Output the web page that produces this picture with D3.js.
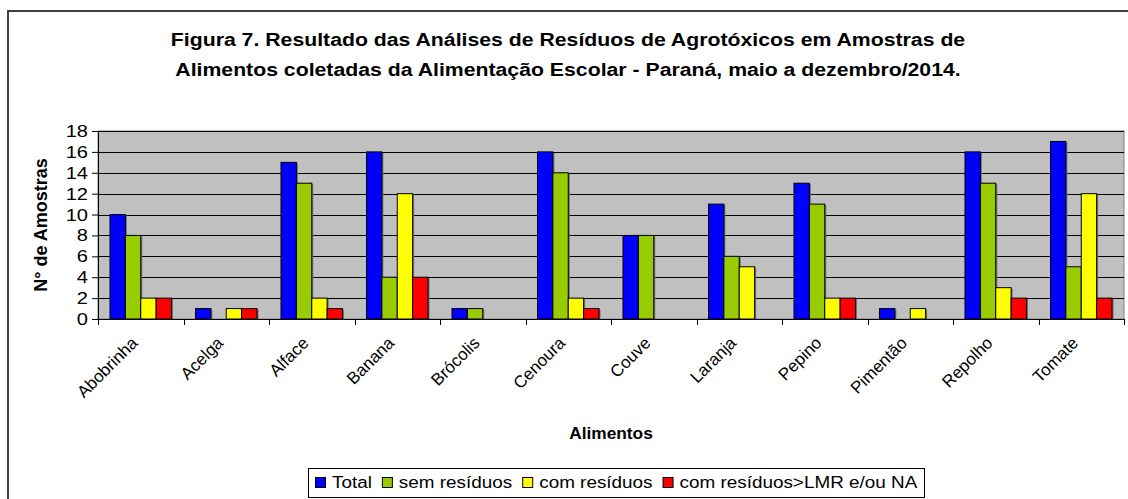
<!DOCTYPE html>
<html>
<head>
<meta charset="utf-8">
<script src="https://cdn.jsdelivr.net/npm/d3@7/dist/d3.min.js"></script>
<style>
  body { margin: 0; background: #fff; }
  svg { display: block; font-family: "Liberation Sans", Arial, sans-serif; }
</style>
</head>
<body>
<div id="chart"></div>
<script>
// dados
var alimentos = ["Abobrinha", "Acelga", "Alface", "Banana", "Brócolis", "Cenoura",
  "Couve", "Laranja", "Pepino", "Pimentão", "Repolho", "Tomate"];
var total = [10, 1, 15, 16, 1, 16, 8, 11, 13, 1, 16, 17];
var semResiduos = [8, 0, 13, 4, 1, 14, 8, 6, 11, 0, 13, 5];
var comResiduos = [2, 1, 2, 12, 0, 2, 0, 5, 2, 1, 3, 12];
var comLMR = [2, 1, 1, 4, 0, 1, 0, 0, 2, 0, 2, 2];
var seriesNames = ["Total", "sem resíduos", "com resíduos", "com resíduos>LMR e/ou NA"];
var seriesColors = ["#0000ff", "#99cc00", "#ffff00", "#ff0000"];
var yTicks = [0, 2, 4, 6, 8, 10, 12, 14, 16, 18];

var width = 1128, height = 499;
var plot = { left: 98, top: 131, right: 1124, bottom: 319 };
// o texto do original parece esticado na horizontal
var stretch = 1.18;

var svg = d3.select('#chart').append('svg')
  .attr('width', width)
  .attr('height', height);

function widen(sel, k) {
  sel.each(function () {
    var w = this.getComputedTextLength();
    d3.select(this).attr('textLength', w * k).attr('lengthAdjust', 'spacingAndGlyphs');
  });
}

// moldura externa
svg.append('rect')
  .attr('x', 8).attr('y', 11)
  .attr('width', width).attr('height', height)
  .attr('fill', 'none')
  .attr('stroke', '#404040')
  .attr('stroke-width', 2);

// titulo
var titleLines = ['Figura 7. Resultado das Análises de Resíduos de Agrotóxicos em Amostras de',
  'Alimentos coletadas da Alimentação Escolar - Paraná, maio a dezembro/2014.'];
svg.append('g').selectAll('text')
  .data(titleLines)
  .enter().append('text')
  .attr('x', 568)
  .attr('y', function (d, i) { return 46 + i * 30; })
  .attr('text-anchor', 'middle')
  .style('font-weight', 'bold')
  .style('font-size', '18px')
  .text(function (d) { return d; })
  .call(widen, stretch);

var x = d3.scaleBand()
  .domain(alimentos)
  .range([plot.left, plot.right]);

var xInner = d3.scaleBand()
  .domain(d3.range(4))
  .range([0, x.bandwidth()])
  .paddingOuter(0.78);

var y = d3.scaleLinear()
  .domain([0, 18])
  .range([plot.bottom, plot.top]);

// fundo da area de plotagem
svg.append('rect')
  .attr('x', plot.left).attr('y', plot.top)
  .attr('width', plot.right - plot.left)
  .attr('height', plot.bottom - plot.top)
  .attr('fill', '#c0c0c0')
  .attr('stroke', '#808080');

// linhas de grade
svg.append('g')
  .selectAll('line')
  .data(yTicks.slice(1))
  .enter().append('line')
  .attr('x1', plot.left).attr('x2', plot.right)
  .attr('y1', function (d) { return Math.round(y(d)) + 0.5; })
  .attr('y2', function (d) { return Math.round(y(d)) + 0.5; })
  .style('stroke', '#000')
  .style('stroke-width', 1);

// barras
var series = [total, semResiduos, comResiduos, comLMR];
var rows = [];
for (var s = 0; s < series.length; s++) {
  for (var i = 0; i < alimentos.length; i++) {
    if (series[s][i] > 0) rows.push({ cat: alimentos[i], s: s, v: series[s][i] });
  }
}

var bars = svg.append('g');
// sombra
bars.selectAll('rect.shadow')
  .data(rows)
  .enter().append('rect')
  .attr('class', 'shadow')
  .attr('x', function (d) { return x(d.cat) + xInner(d.s) + 1.5; })
  .attr('y', function (d) { return y(d.v) + 1; })
  .attr('width', xInner.bandwidth())
  .attr('height', function (d) { return y(0) - y(d.v) - 1; })
  .attr('fill', '#707070');

bars.selectAll('rect.bar')
  .data(rows)
  .enter().append('rect')
  .attr('class', 'bar')
  .attr('x', function (d) { return x(d.cat) + xInner(d.s); })
  .attr('y', function (d) { return y(d.v); })
  .attr('width', xInner.bandwidth())
  .attr('height', function (d) { return y(0) - y(d.v); })
  .attr('fill', function (d) { return seriesColors[d.s]; })
  .attr('stroke', '#000')
  .attr('stroke-width', 1);

// eixo y
var yAxis = svg.append('g')
  .attr('transform', 'translate(' + plot.left + ',0)')
  .call(d3.axisLeft(y).tickValues(yTicks).tickSize(6).tickPadding(4).tickSizeOuter(0));
yAxis.select('.domain').attr('stroke', '#000');
yAxis.selectAll('text').style('font-size', '17px').attr('fill', '#000').call(widen, stretch);

// eixo x
var boundaries = alimentos.map(function (d) { return x(d); }).concat([plot.right]);
svg.append('line')
  .attr('x1', plot.left).attr('x2', plot.right)
  .attr('y1', plot.bottom + 0.5).attr('y2', plot.bottom + 0.5)
  .style('stroke', '#000');
svg.append('g').selectAll('line')
  .data(boundaries)
  .enter().append('line')
  .attr('x1', function (d) { return Math.round(d) + 0.5; })
  .attr('x2', function (d) { return Math.round(d) + 0.5; })
  .attr('y1', plot.bottom).attr('y2', plot.bottom + 6)
  .style('stroke', '#000');

svg.append('g').selectAll('text')
  .data(alimentos)
  .enter().append('text')
  .attr('transform', function (d) {
    return 'translate(' + (x(d) + x.bandwidth() / 2 - 2) + ',' + (plot.bottom + 25) + ') rotate(-45)';
  })
  .attr('text-anchor', 'end')
  .style('font-size', '17px')
  .text(function (d) { return d; });

// titulos dos eixos
svg.append('text')
  .attr('x', (plot.left + plot.right) / 2).attr('y', 439)
  .attr('text-anchor', 'middle')
  .style('font-weight', 'bold')
  .style('font-size', '16px')
  .text('Alimentos')
  .call(widen, 1.08);

svg.append('text')
  .attr('transform', 'translate(47,' + ((plot.top + plot.bottom) / 2) + ') rotate(-90)')
  .attr('text-anchor', 'middle')
  .style('font-weight', 'bold')
  .style('font-size', '18px')
  .text('N° de Amostras');

// legenda
var legend = svg.append('g');
var box = legend.append('rect')
  .attr('y', 468.5)
  .attr('height', 29)
  .attr('fill', '#fff')
  .attr('stroke', '#000');
var items = legend.append('g');

var lx = 0;
seriesNames.forEach(function (name, k) {
  items.append('rect')
    .attr('x', lx + 0.5).attr('y', 477.5)
    .attr('width', 10).attr('height', 10)
    .attr('fill', seriesColors[k])
    .attr('stroke', '#000');
  var t = items.append('text')
    .attr('x', lx + 17).attr('y', 488)
    .style('font-size', '16px')
    .text(name)
    .call(widen, stretch);
  // getComputedTextLength ja devolve o comprimento esticado
  lx += 17 + t.node().getComputedTextLength() + 10;
});
var legendW = lx - 10 + 14;
var legendX = Math.round(616 - legendW / 2);
box.attr('x', legendX + 0.5).attr('width', Math.round(legendW));
items.attr('transform', 'translate(' + (legendX + 7) + ',0)');
</script>
</body>
</html>
